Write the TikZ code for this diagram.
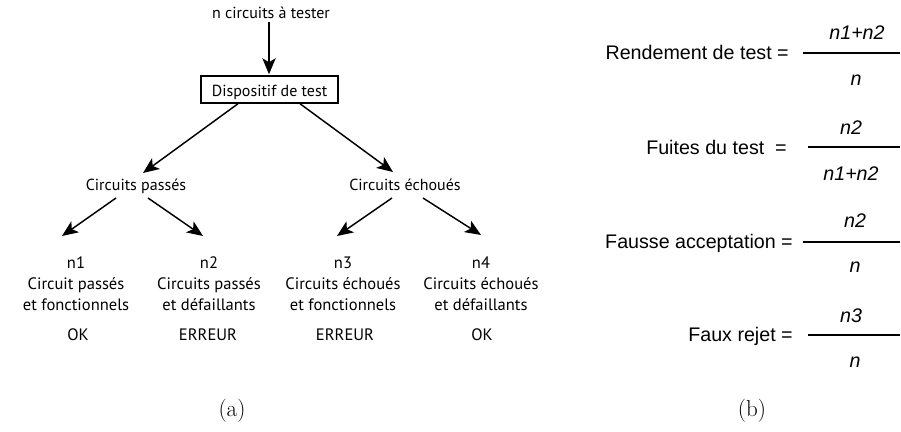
\documentclass[tikz,border=0pt]{standalone}
\usepackage{fontspec}
\newfontfamily\myr{PT Sans}
\newfontfamily\ari{Liberation Sans}
\usetikzlibrary{arrows.meta}
\begin{document}
\begin{tikzpicture}[x=0.75pt,y=-0.75pt,
  lt/.style={font=\myr\fontsize{12}{15.75}\selectfont, inner sep=0pt},
  lb/.style={font=\myr\fontsize{12.4}{15.75}\selectfont, inner sep=0pt},
  arr/.style={line width=1.1pt, -{Stealth[length=12pt,width=10pt,inset=3pt]}},
  rt/.style={font=\ari\fontsize{14.75}{16}\selectfont, inner sep=0pt, anchor=base east},
  fr/.style={font=\ari\itshape\fontsize{14.75}{16}\selectfont, inner sep=0pt, anchor=base},
  fbar/.style={line width=0.9pt},
  captxt/.style={font=\LARGE, inner sep=0pt, anchor=base}
]
\useasboundingbox (0,0) rectangle (901,432);

% ---- left tree
\node[lt, anchor=base] (top) at (271,18) {n circuits à tester};
\node[lt, anchor=base, draw, line width=1.1pt, text height=15pt, text depth=5.25pt,
      minimum width=102.75pt] (box) at (269.5,96) {Dispositif de test};
\node[lt, anchor=base] (pas) at (136,190) {Circuits passés};
\node[lt, anchor=base] (ech) at (405,190) {Circuits échoués};

\node[lb, align=center] (n1) at (76,284) {n1\\Circuit passés\\et fonctionnels};
\node[lb, align=center] (n2) at (209,284) {n2\\Circuits passés\\et défaillants};
\node[lb, align=center] (n3) at (343,284) {n3\\Circuits échoués\\et fonctionnels};
\node[lb, align=center] (n4) at (481,284) {n4\\Circuits échoués\\et défaillants};

\node[lb, anchor=base] (ok1) at (78,340) {OK};
\node[lb, anchor=base] (er1) at (208,340) {ERREUR};
\node[lb, anchor=base] (er2) at (345,340) {ERREUR};
\node[lb, anchor=base] (ok2) at (482,340) {OK};

\draw[arr] ([shift={(-2,4)}]top.base) -- ([shift={(-0.5,-1)}]box.north);
\draw[arr] ([shift={(-31.5,0)}]box.south) -- ([shift={(7,-17)}]pas.base);
\draw[arr] ([shift={(30.5,0)}]box.south) -- ([shift={(-12,-18)}]ech.base);
\draw[arr] ([shift={(-20,8)}]pas.base) -- ([shift={(-14,-48)}]n1.center);
\draw[arr] ([shift={(12,8)}]pas.base) -- ([shift={(-6,-48)}]n2.center);
\draw[arr] ([shift={(-13,8)}]ech.base) -- ([shift={(-6,-48)}]n3.center);
\draw[arr] ([shift={(18,8)}]ech.base) -- ([shift={(0,-49)}]n4.center);

% ---- right formulas
\node[rt] (l1) at (789,60) {Rendement de test =};
\node[fr] (a1) at (857,40) {n1+n2};
\node[fr] (b1) at (856,85) {n};
\coordinate (s1) at (803,53); \coordinate (e1) at (900,53);
\draw[fbar] (s1) -- (e1);

\node[rt] (l2) at (787,154) {Fuites du test\ \ =};
\node[fr] (a2) at (851,134) {n2};
\node[fr] (b2) at (851,180) {n1+n2};
\coordinate (s2) at (808,147); \coordinate (e2) at (900,147);
\draw[fbar] (s2) -- (e2);

\node[rt] (l3) at (793,248) {Fausse acceptation =};
\node[fr] (a3) at (855,227) {n2};
\node[fr] (b3) at (855,272) {n};
\coordinate (s3) at (803,242); \coordinate (e3) at (900,242);
\draw[fbar] (s3) -- (e3);

\node[rt] (l4) at (793,341) {Faux rejet =};
\node[fr] (a4) at (851,322) {n3};
\node[fr] (b4) at (855,367) {n};
\coordinate (s4) at (808,335); \coordinate (e4) at (900,335);
\draw[fbar] (s4) -- (e4);

% ---- captions
\node[captxt] (ca) at (232,416) {(a)};
\node[captxt] (cb) at (752,416) {(b)};
\end{tikzpicture}
\end{document}
